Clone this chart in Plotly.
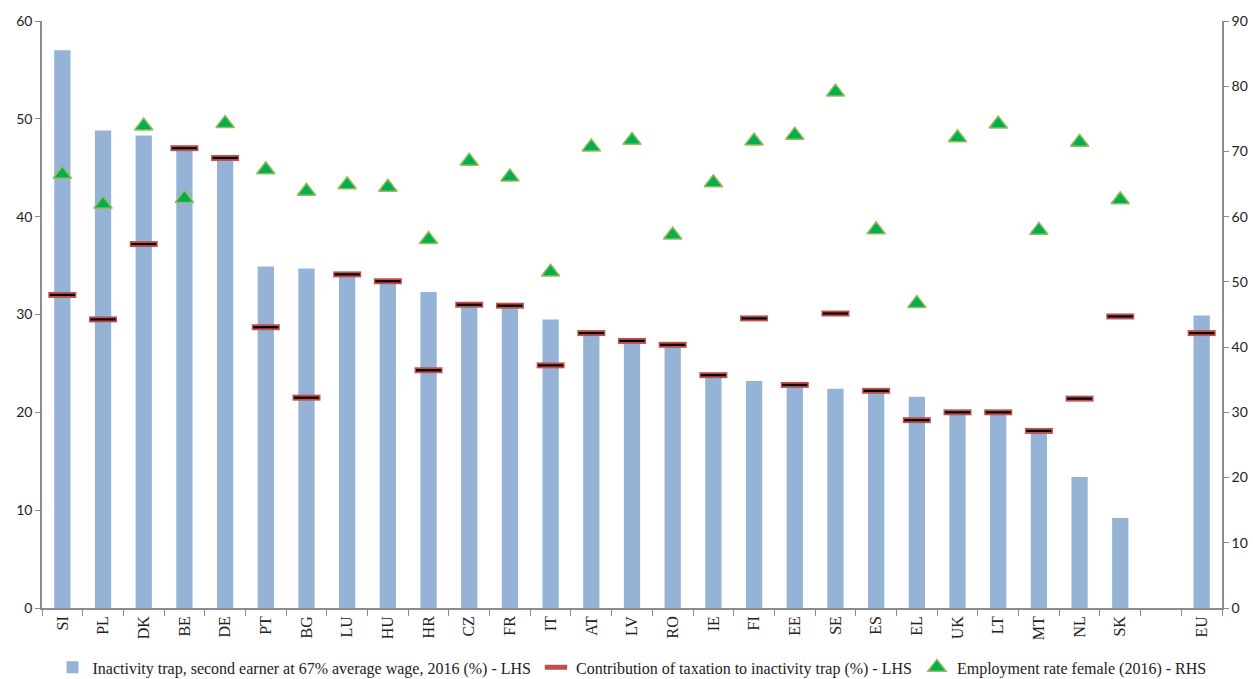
import plotly.graph_objects as go

# Country codes, with an empty slot separating the EU aggregate
countries = ["SI", "PL", "DK", "BE", "DE", "PT", "BG", "LU", "HU", "HR", "CZ", "FR", "IT", "AT",
             "LV", "RO", "IE", "FI", "EE", "SE", "ES", "EL", "UK", "LT", "MT", "NL", "SK", " ", "EU"]

# Inactivity trap, second earner at 67% of average wage, 2016 (%) - left axis
inactivity_trap = [57.0, 48.8, 48.3, 47.0, 46.0, 34.9, 34.7, 34.0, 33.3, 32.3, 31.1, 31.0, 29.5, 28.1,
                   27.3, 26.9, 23.8, 23.2, 22.8, 22.4, 22.2, 21.6, 20.0, 20.0, 18.0, 13.4, 9.2, None, 29.9]

# Contribution of taxation to the inactivity trap (%) - left axis
tax_contribution = [32.0, 29.5, 37.2, 47.0, 46.0, 28.7, 21.5, 34.1, 33.4, 24.3, 31.0, 30.9, 24.8, 28.1,
                    27.3, 26.9, 23.8, 29.6, 22.8, 30.1, 22.2, 19.2, 20.0, 20.0, 18.1, 21.4, 29.8, None, 28.1]

# Female employment rate, 2016 (%) - right axis
female_employment = [66.5, 61.9, 73.9, 62.8, 74.3, 67.2, 63.9, 64.9, 64.5, 56.5, 68.5, 66.1, 51.5, 70.7,
                     71.7, 57.2, 65.2, 71.6, 72.5, 79.1, 58.0, 46.7, 72.1, 74.2, 57.9, 71.4, 62.6, None, None]

left_ticks = [0, 10, 20, 30, 40, 50, 60]
right_ticks = [0, 10, 20, 30, 40, 50, 60, 70, 80, 90]

serif = "Liberation Serif"
sans = "Lato"
axis_grey = "#8C8C8C"
text_colour = "#222222"

fig = go.Figure()

fig.add_trace(go.Bar(
    x=countries, y=inactivity_trap,
    name="Inactivity trap, second earner at 67% average wage, 2016 (%) - LHS",
    marker=dict(color="#95B3D7", line=dict(width=0)),
    yaxis="y",
))

# Dash markers: red body with a thin black core
fig.add_trace(go.Scatter(
    x=countries, y=tax_contribution, mode="markers",
    name="Contribution of taxation to inactivity trap (%) - LHS",
    marker=dict(symbol="line-ew", size=20, line=dict(color="#C0504D", width=6)),
    yaxis="y",
))
fig.add_trace(go.Scatter(
    x=countries, y=tax_contribution, mode="markers", showlegend=False, hoverinfo="skip",
    marker=dict(symbol="line-ew", size=18, line=dict(color="#000000", width=2.2)),
    yaxis="y",
))

fig.add_trace(go.Scatter(
    x=countries, y=female_employment, mode="markers",
    name="Employment rate female (2016) - RHS",
    marker=dict(symbol="triangle-up", size=16, color="#00B050",
                line=dict(color="#9BBB59", width=1.5)),
    yaxis="y2",
))

fig.update_layout(
    width=1253, height=679,
    margin=dict(l=42, r=31, t=21, b=71, autoexpand=False),
    paper_bgcolor="white", plot_bgcolor="white",
    bargap=0.6,
    showlegend=True,
    legend=dict(orientation="h", x=0.5, xanchor="center",
                yref="container", y=0.017, yanchor="middle",
                font=dict(family=serif, size=16, color=text_colour),
                itemwidth=30, tracegroupgap=0, bgcolor="rgba(0,0,0,0)"),
    xaxis=dict(
        type="category", categoryorder="array", categoryarray=countries,
        range=[-0.5, len(countries) - 0.5],
        tickson="boundaries", ticks="outside", ticklen=6, tickcolor=axis_grey,
        tickangle=-90, tickfont=dict(family=serif, size=16, color=text_colour),
        showline=True, linecolor=axis_grey, linewidth=1.5,
        showgrid=False, zeroline=False, fixedrange=True,
    ),
    yaxis=dict(
        range=[0, 60], tickvals=left_ticks, ticks="outside", ticklen=5, tickcolor=axis_grey,
        tickfont=dict(family=sans, size=14, color=text_colour),
        showline=True, linecolor=axis_grey, linewidth=1.5,
        showgrid=False, zeroline=False,
    ),
    yaxis2=dict(
        range=[0, 90], tickvals=right_ticks, overlaying="y", side="right",
        ticks="outside", ticklen=5, tickcolor=axis_grey,
        tickfont=dict(family=sans, size=14, color=text_colour),
        showline=True, linecolor=axis_grey, linewidth=1.5,
        showgrid=False, zeroline=False,
    ),
)

fig.write_html("out.html")
